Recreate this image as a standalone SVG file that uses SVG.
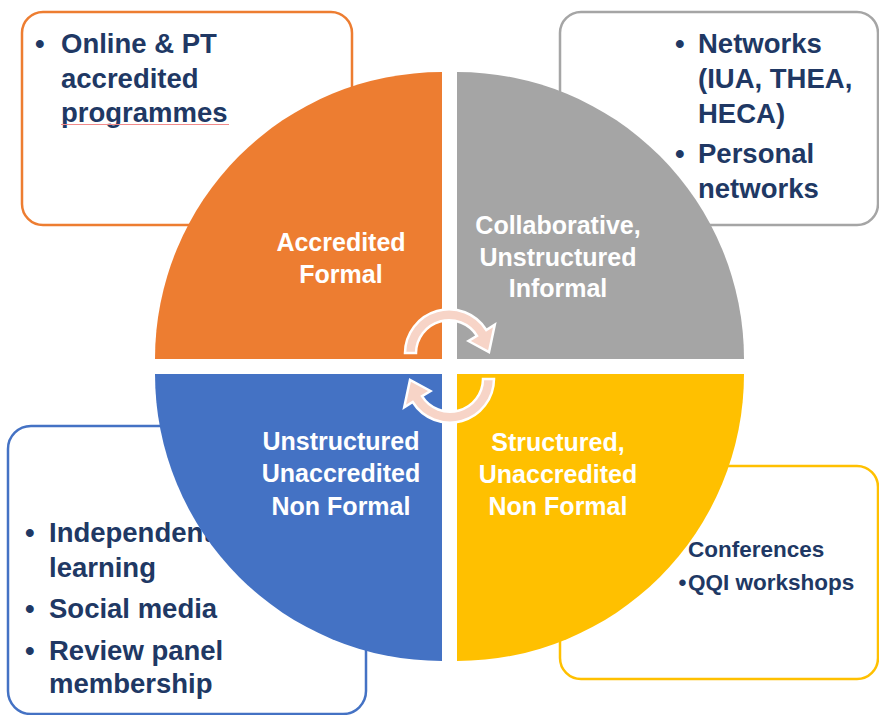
<svg xmlns="http://www.w3.org/2000/svg" width="879" height="715" viewBox="0 0 879 715">
<style>
.box{fill:#FFFFFF;stroke-width:2.5}
.bt{font-family:"Liberation Sans",Arial,sans-serif;font-weight:bold;font-size:27.5px;fill:#203864}
.bts{font-family:"Liberation Sans",Arial,sans-serif;font-weight:bold;font-size:22.5px;fill:#203864}
.qt{font-family:"Liberation Sans",Arial,sans-serif;font-weight:bold;font-size:25px;fill:#FFFFFF;text-anchor:middle}
.arr{fill:#F7D4C7;stroke:#FFFFFF;stroke-width:2.5;stroke-linejoin:miter}
</style>
<rect width="879" height="715" fill="#FFFFFF"/>
<g id="box-accredited">
<rect class="box" x="22" y="12" width="330" height="213" rx="21" stroke="#ED7D31"/>
<text class="bt" x="35" y="53">•</text>
<text class="bt" x="61" y="53">Online &amp; PT</text>
<text class="bt" x="61" y="88">accredited</text>
<text class="bt" x="61" y="122">programmes</text>
<line x1="61" y1="124.5" x2="229" y2="124.5" stroke="#F08A8A" stroke-width="1.2"/>
</g>
<g id="box-collaborative">
<rect class="box" x="560" y="12" width="318" height="213" rx="21" stroke="#A5A5A5"/>
<text class="bt" x="675" y="53">•</text>
<text class="bt" x="698" y="53">Networks</text>
<text class="bt" x="698" y="88">(IUA, THEA,</text>
<text class="bt" x="698" y="123">HECA)</text>
<text class="bt" x="675" y="163">•</text>
<text class="bt" x="698" y="163">Personal</text>
<text class="bt" x="698" y="198">networks</text>
</g>
<g id="box-unstructured">
<rect class="box" x="8" y="426" width="358" height="288" rx="23" stroke="#4472C4"/>
<text class="bt" x="25" y="542">•</text>
<text class="bt" x="49" y="542">Independent</text>
<text class="bt" x="49" y="577">learning</text>
<text class="bt" x="25" y="618">•</text>
<text class="bt" x="49" y="618">Social media</text>
<text class="bt" x="25" y="660">•</text>
<text class="bt" x="49" y="660">Review panel</text>
<text class="bt" x="49" y="693">membership</text>
</g>
<g id="box-structured">
<rect class="box" x="560" y="466" width="318" height="213" rx="21" stroke="#FFC000"/>
<text class="bts" x="688" y="557">Conferences</text>
<text class="bts" x="678.5" y="590">•</text>
<text class="bts" x="688" y="590">QQI workshops</text>
</g>
<g id="q-accredited-formal">
<path d="M442,359 L155,359 A287,287 0 0 1 442,72 Z" fill="#ED7D31"/>
<text class="qt" x="341" y="251">Accredited</text>
<text class="qt" x="341" y="283">Formal</text>
</g>
<g id="q-collaborative">
<path d="M457,359 L457,72 A287,287 0 0 1 744,359 Z" fill="#A5A5A5"/>
<text class="qt" x="558" y="234">Collaborative,</text>
<text class="qt" x="558" y="266">Unstructured</text>
<text class="qt" x="558" y="297">Informal</text>
</g>
<g id="q-unstructured">
<path d="M442,374 L442,661 A287,287 0 0 1 155,374 Z" fill="#4472C4"/>
<text class="qt" x="341" y="450">Unstructured</text>
<text class="qt" x="341" y="482">Unaccredited</text>
<text class="qt" x="341" y="515">Non Formal</text>
</g>
<g id="q-structured">
<path d="M457,374 L744,374 A287,287 0 0 1 457,661 Z" fill="#FFC000"/>
<text class="qt" x="558" y="451">Structured,</text>
<text class="qt" x="558" y="483">Unaccredited</text>
<text class="qt" x="558" y="515">Non Formal</text>
</g>
<g id="connectors">
<path id="cyc-top" class="arr" d="M405,353 A44,44 0 0 1 486.3,330 L494.8,324.7 L489,352 L468.5,341 L477,335.8 A33,33 0 0 0 416,353 Z"/>
<path id="cyc-bottom" class="arr" transform="rotate(180 449.5 366)" d="M405,353 A44,44 0 0 1 486.3,330 L494.8,324.7 L489,352 L468.5,341 L477,335.8 A33,33 0 0 0 416,353 Z"/>
</g>
</svg>
